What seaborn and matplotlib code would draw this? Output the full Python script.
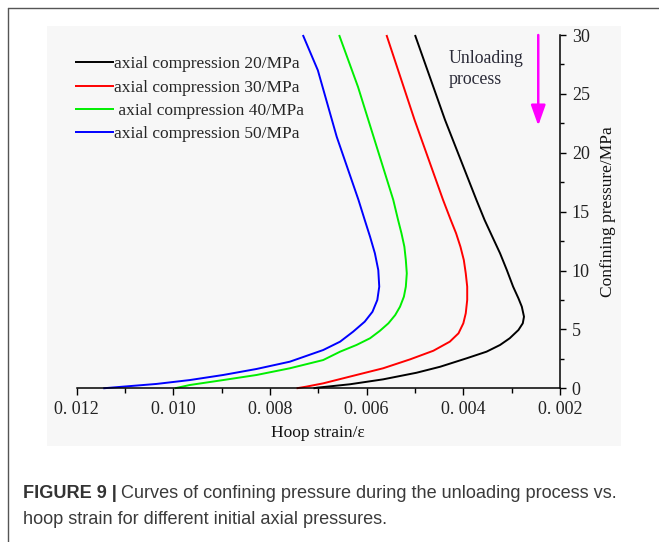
import matplotlib
matplotlib.use("Agg")
import matplotlib.pyplot as plt
import seaborn as sns
import pandas as pd
from matplotlib.patches import Rectangle
from matplotlib.lines import Line2D
from matplotlib.ticker import MultipleLocator, FuncFormatter

# Hoop strain (x) and confining pressure in MPa (y), from 30 MPa down to 0
strain_20 = [0.00500, 0.00438, 0.00373, 0.00356, 0.00340, 0.00324, 0.00310, 0.00297,
             0.00286, 0.00279, 0.002745, 0.00277, 0.00286, 0.00304, 0.00324, 0.00352,
             0.00393, 0.00448, 0.00497, 0.00566, 0.00635, 0.00703, 0.00710]
press_20 = [30, 22.8, 16.0, 14.29, 12.87, 11.46, 10.04, 8.63,
            7.64, 6.93, 6.08, 5.52, 4.95, 4.25, 3.68, 3.11,
            2.55, 1.83, 1.32, 0.76, 0.34, 0.05, 0]

strain_30 = [0.00559, 0.00501, 0.00442, 0.00426, 0.00415, 0.00406, 0.00399, 0.00395,
             0.00392, 0.00392, 0.00395, 0.00400, 0.00410, 0.00428, 0.00462, 0.00510,
             0.00566, 0.00635, 0.00690, 0.00725, 0.00745]
press_30 = [30, 22.8, 16.0, 14.29, 13.16, 12.02, 10.89, 9.76,
            8.63, 7.50, 6.37, 5.52, 4.67, 3.96, 3.19, 2.46,
            1.70, 0.99, 0.42, 0.14, 0]

strain_40 = [0.00657, 0.00618, 0.00545, 0.00535, 0.00528, 0.00522, 0.00519, 0.00517,
             0.00519, 0.00523, 0.00531, 0.00541, 0.00555, 0.00573, 0.00593, 0.00621,
             0.00655, 0.00690, 0.00759, 0.00828, 0.00897, 0.00966, 0.00997]
press_40 = [30, 25.6, 16.0, 14.29, 13.16, 12.02, 10.89, 9.76,
            8.63, 7.78, 6.93, 6.22, 5.52, 4.87, 4.25, 3.68,
            3.11, 2.40, 1.70, 1.13, 0.70, 0.28, 0]

strain_50 = [0.00732, 0.00701, 0.00662, 0.00617, 0.00604, 0.00593, 0.00583, 0.00576,
             0.00574, 0.00578, 0.00588, 0.00604, 0.00628, 0.00655, 0.00690, 0.00759,
             0.00828, 0.00897, 0.00966, 0.01035, 0.01104, 0.01145]
press_50 = [30, 27.0, 21.36, 16.0, 14.29, 12.87, 11.46, 10.04,
            8.63, 7.50, 6.50, 5.66, 4.81, 3.96, 3.25, 2.26,
            1.64, 1.13, 0.70, 0.37, 0.14, 0]

series_labels = ["axial compression 20/MPa", "axial compression 30/MPa",
                 " axial compression 40/MPa", "axial compression 50/MPa"]
series_colors = ["#000000", "#ff0000", "#00ee00", "#0000ff"]

frames = []
for lab, xs, ys in zip(series_labels,
                       [strain_20, strain_30, strain_40, strain_50],
                       [press_20, press_30, press_40, press_50]):
    frames.append(pd.DataFrame({"strain": xs, "pressure": ys, "series": lab}))
df = pd.concat(frames, ignore_index=True)

sns.set_theme(style="white")
plt.rcParams["font.family"] = ["Liberation Serif", "DejaVu Serif"]

W, H = 659, 542
fig = plt.figure(figsize=(W / 100, H / 100), dpi=100)
fig.patch.set_facecolor("white")


def px_box(x0, y0, x1, y1):
    """Pixel box (origin top-left) -> figure-fraction [left, bottom, width, height]."""
    return [x0 / W, 1 - y1 / H, (x1 - x0) / W, (y1 - y0) / H]


# outer frame (top and left edges)
fig.add_artist(Line2D([8 / W, 1], [1 - 8 / H, 1 - 8 / H], color="#555555", lw=1.0))
fig.add_artist(Line2D([8 / W, 8 / W], [0, 1 - 8 / H], color="#555555", lw=1.0))

# faint panel behind the chart
fig.add_artist(Rectangle((47 / W, 1 - 446 / H), (621 - 47) / W, (446 - 26) / H,
                         transform=fig.transFigure, facecolor="#f7f7f7",
                         edgecolor="none", zorder=0))

ax = fig.add_axes(px_box(76.7, 35, 560, 388.3))
ax.patch.set_alpha(0)

sns.lineplot(data=df, x="strain", y="pressure", hue="series",
             palette=dict(zip(series_labels, series_colors)),
             sort=False, estimator=None, linewidth=1.4, legend=False, ax=ax)

for ln in ax.get_lines():
    ln.set_solid_capstyle("butt")
    ln.set_solid_joinstyle("round")
    ln.set_clip_on(False)

ax.set_xlim(0.012, 0.002)
ax.set_ylim(0, 30)

for side in ("top", "left"):
    ax.spines[side].set_visible(False)
for side in ("bottom", "right"):
    ax.spines[side].set_color("black")
    ax.spines[side].set_linewidth(1.1)

ax.yaxis.tick_right()
ax.yaxis.set_label_position("right")
ax.xaxis.set_major_locator(MultipleLocator(0.002))
ax.xaxis.set_minor_locator(MultipleLocator(0.001))
ax.yaxis.set_major_locator(MultipleLocator(5))
ax.yaxis.set_minor_locator(MultipleLocator(2.5))
ax.xaxis.set_major_formatter(FuncFormatter(lambda v, p: f"{v:.3f}".replace(".", ". ")))
ax.yaxis.set_major_formatter(FuncFormatter(lambda v, p: f"{v:g}"))

ax.tick_params(axis="x", which="major", direction="out", length=4.8, width=1.0,
               color="black", labelsize=13, pad=4, labelcolor="#222222", bottom=True)
ax.tick_params(axis="x", which="minor", direction="out", length=3.4, width=1.0,
               color="black", bottom=True)
ax.tick_params(axis="y", which="major", direction="out", length=4.5, width=1.0,
               color="black", labelsize=13, pad=4, labelcolor="#222222",
               right=True, left=False)
ax.tick_params(axis="y", which="minor", direction="out", length=3.2, width=1.0,
               color="black", right=True, left=False)

ax.set_xlabel("Hoop strain/ε", fontsize=12.5, color="#111111", va="center")
ax.xaxis.set_label_coords(0.5, -(433 - 388.3) / 353.3)
ax.set_ylabel("Confining pressure/MPa", fontsize=12.5, color="#111111",
              va="center", rotation=90)
ax.yaxis.set_label_coords((608 - 76.7) / 483.3, 0.5)

handles = ax.get_lines()[:4]
ax.legend(handles, series_labels, loc="upper left",
          bbox_to_anchor=(75 / W, 1 - 56 / H), bbox_transform=fig.transFigure,
          frameon=False, fontsize=12.5, handlelength=2.25, handletextpad=0.0,
          labelspacing=0.42, borderpad=0, borderaxespad=0)

# unloading direction note and arrow
ax.text((449 - 76.7) / 483.3, (388.3 - 63.3) / 353.3, "Unloading",
        transform=ax.transAxes, fontsize=12.8, color="#2b2b38", va="baseline")
ax.text((449 - 76.7) / 483.3, (388.3 - 84.3) / 353.3, "process",
        transform=ax.transAxes, fontsize=12.8, color="#2b2b38", va="baseline")
ax.annotate("", xy=(0.00245, 22.3), xytext=(0.00245, 30),
            arrowprops=dict(arrowstyle="-|>,head_length=0.62,head_width=0.22",
                            color="#ff00ff", lw=1.8, mutation_scale=20,
                            shrinkA=0, shrinkB=0))

# figure caption
cap_y1 = 1 - 494 / H
cap_y2 = 1 - 519 / H
cap_size = 13.1
bold = fig.text(23 / W, cap_y1, "FIGURE 9 |", family="Liberation Sans",
                weight="bold", fontsize=cap_size, color="#333333", va="center")
fig.canvas.draw()
bb = bold.get_window_extent(fig.canvas.get_renderer())
fig.text((bb.x1 + 4) / W, cap_y1,
         "Curves of confining pressure during the unloading process vs.",
         family="Liberation Sans", fontsize=cap_size, color="#3a3a3a", va="center")
fig.text(23 / W, cap_y2, "hoop strain for different initial axial pressures.",
         family="Liberation Sans", fontsize=cap_size, color="#3a3a3a", va="center")

fig.savefig("out.png", dpi=100, facecolor="white")
